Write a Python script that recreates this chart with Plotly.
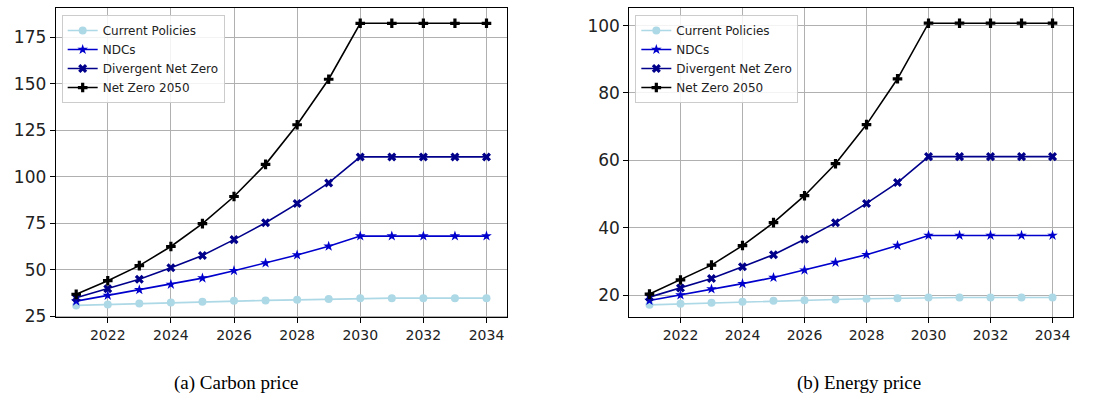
import plotly.graph_objects as go

years = list(range(2021, 2035))
scenarios = ["Current Policies", "NDCs", "Divergent Net Zero", "Net Zero 2050"]

carbon_current = [30.8, 31.3, 31.8, 32.4, 32.8, 33.3, 33.5, 33.8, 34.2, 34.7, 34.7, 34.7, 34.7, 34.7]
carbon_ndcs = [33.1, 36.2, 39.2, 42.1, 45.5, 49.5, 53.6, 57.9, 62.6, 68.1, 68.1, 68.1, 68.1, 68.1]
carbon_divergent = [34.9, 39.8, 44.9, 51.1, 57.7, 66.2, 75.3, 85.6, 96.7, 110.7, 110.7, 110.7, 110.7, 110.7]
carbon_nz2050 = [36.8, 44.1, 52.2, 62.5, 74.8, 89.4, 106.7, 128.0, 152.5, 182.6, 182.6, 182.6, 182.6, 182.6]

energy_current = [17.1, 17.4, 17.7, 18.0, 18.3, 18.5, 18.7, 18.9, 19.1, 19.3, 19.3, 19.3, 19.3, 19.3]
energy_ndcs = [18.4, 20.0, 21.8, 23.4, 25.2, 27.4, 29.7, 32.0, 34.7, 37.7, 37.7, 37.7, 37.7, 37.7]
energy_divergent = [19.4, 22.1, 24.9, 28.4, 32.0, 36.6, 41.5, 47.2, 53.4, 61.1, 61.1, 61.1, 61.1, 61.1]
energy_nz2050 = [20.3, 24.5, 28.9, 34.7, 41.5, 49.5, 59.0, 70.6, 84.2, 100.7, 100.7, 100.7, 100.7, 100.7]

captions = ["(a) Carbon price", "(b) Energy price"]

styles = [
    dict(color="#add8e6", symbol="circle", size=8),
    dict(color="#0000cd", symbol="star", size=8),
    dict(color="#00008b", symbol="x", size=8),
    dict(color="#000000", symbol="cross", size=8),
]

fig = go.Figure()

panels = [
    ([carbon_current, carbon_ndcs, carbon_divergent, carbon_nz2050], "x", "y", "legend"),
    ([energy_current, energy_ndcs, energy_divergent, energy_nz2050], "x2", "y2", "legend2"),
]

for series, xa, ya, lg in panels:
    for name, vals, st in zip(scenarios, series, styles):
        fig.add_trace(go.Scatter(
            x=years, y=vals, name=name, mode="lines+markers",
            xaxis=xa, yaxis=ya, legend=lg,
            line=dict(color=st["color"], width=1.6),
            marker=dict(color=st["color"], symbol=st["symbol"], size=st["size"],
                        line=dict(width=0)),
        ))

axis_common = dict(
    showline=True, linecolor="black", linewidth=1, mirror=True,
    showgrid=True, gridcolor="#b0b0b0", gridwidth=0.8,
    ticks="outside", ticklen=5, tickcolor="black", tickwidth=1,
    zeroline=False, automargin=False,
)
font_family = "DejaVu Sans"
tick_col = "#222222"

fig.update_layout(
    width=1107, height=402,
    margin=dict(l=0, r=0, t=0, b=0, autoexpand=False),
    paper_bgcolor="white", plot_bgcolor="white",
    font=dict(family=font_family, color=tick_col),
    showlegend=True,
    xaxis=dict(domain=[0.0503, 0.458], range=[2020.35, 2034.65], anchor="y",
               tickvals=[2022, 2024, 2026, 2028, 2030, 2032, 2034],
               tickfont=dict(size=14, family=font_family, color=tick_col), **axis_common),
    yaxis=dict(domain=[0.2102, 0.980], range=[24.3, 190.8], anchor="x",
               tickvals=[25, 50, 75, 100, 125, 150, 175],
               tickfont=dict(size=17, family=font_family, color=tick_col), **axis_common),
    xaxis2=dict(domain=[0.5685, 0.969], range=[2020.35, 2034.65], anchor="y2",
                tickvals=[2022, 2024, 2026, 2028, 2030, 2032, 2034],
                tickfont=dict(size=14, family=font_family, color=tick_col), **axis_common),
    yaxis2=dict(domain=[0.2102, 0.980], range=[13.35, 105.2], anchor="x2",
                tickvals=[20, 40, 60, 80, 100],
                tickfont=dict(size=17, family=font_family, color=tick_col), **axis_common),
    legend=dict(x=0.0503 + 6 / 1107, y=0.980 - 7 / 402, xanchor="left", yanchor="top",
                bgcolor="rgba(255,255,255,0.85)", bordercolor="#cccccc", borderwidth=1,
                font=dict(size=12, family=font_family, color=tick_col),
                tracegroupgap=0, itemwidth=30),
    legend2=dict(x=0.5685 + 6 / 1107, y=0.980 - 7 / 402, xanchor="left", yanchor="top",
                 bgcolor="rgba(255,255,255,0.85)", bordercolor="#cccccc", borderwidth=1,
                 font=dict(size=12, family=font_family, color=tick_col),
                 tracegroupgap=0, itemwidth=30),
)

for text, xc in zip(captions, [236, 859]):
    fig.add_annotation(
        text=text, xref="paper", yref="paper", x=xc / 1107, y=1 - 383 / 402,
        xanchor="center", yanchor="middle", showarrow=False,
        font=dict(family="Liberation Serif", size=19, color="black"),
    )

fig.write_html(
    "out.html",
    config={"displayModeBar": False},
    post_script="document.body.style.margin='0px';document.body.style.overflow='hidden';",
)
